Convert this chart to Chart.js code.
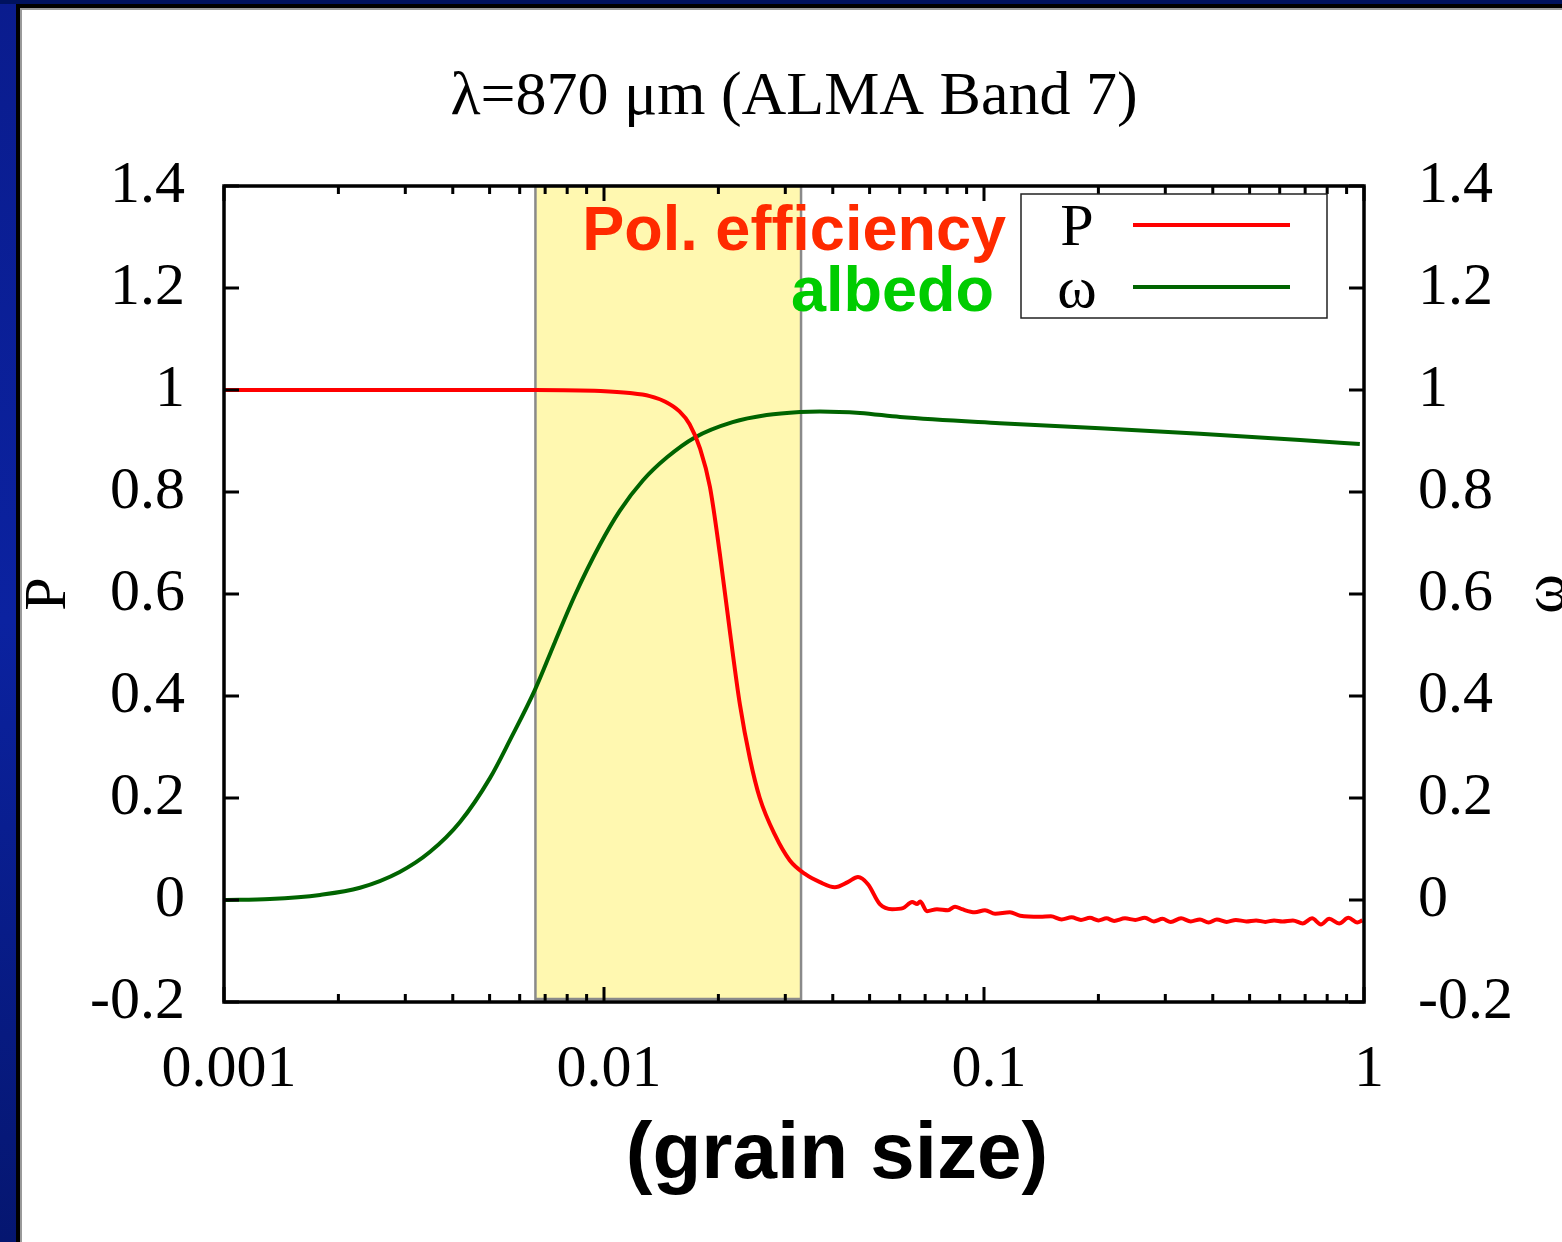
<!DOCTYPE html>
<html><head><meta charset="utf-8">
<script src="https://cdn.jsdelivr.net/npm/chart.js@4.4.1/dist/chart.umd.min.js"></script>
<style>
html,body{margin:0;padding:0;width:1562px;height:1242px;overflow:hidden;}
body{background:linear-gradient(to bottom,#0a1c8e 0%,#0b22a0 50%,#051670 100%);position:relative;}
#topstrip{position:absolute;left:0;top:0;width:1562px;height:4px;background:#00125e;}
#panel{position:absolute;left:16px;top:4px;width:1600px;height:1300px;background:#000;}
#inner{position:absolute;left:4px;top:4px;right:0;bottom:0;background:#fff;border-left:2px solid #9a9a9a;border-top:2px solid #9a9a9a;}
#c{position:absolute;left:0;top:0;}
</style></head>
<body>
<div id="topstrip"></div>
<div id="panel"><div id="inner"></div></div>
<canvas id="c" width="1562" height="1242"></canvas>
<script>
// ---- text ----
const TITLE = 'λ=870 μm (ALMA Band 7)';
const X_TITLE = '(grain size)';
const Y_TITLE = 'P';
const Y2_TITLE = 'ω';
const seriesLabels = ['P', 'ω'];
const annotLabels = ['Pol. efficiency', 'albedo'];

// ---- ticks ----
const xTickValues = [0.001, 0.01, 0.1, 1];
const xTickLabels = ['0.001', '0.01', '0.1', '1'];
const yTickValues = [-0.2, 0, 0.2, 0.4, 0.6, 0.8, 1.0, 1.2, 1.4];
const yTickLabels = ['-0.2', '0', '0.2', '0.4', '0.6', '0.8', '1', '1.2', '1.4'];

// ---- highlighted grain-size band ----
const bandRange = [0.0066, 0.033];

// ---- polarization efficiency P ----
const sizeP = [0.001, 0.002, 0.004, 0.0066, 0.0098, 0.0117, 0.0132, 0.0145, 0.0158, 0.0168,
  0.0179, 0.0190, 0.0202, 0.0215, 0.0228, 0.0242, 0.0257, 0.0282, 0.0308, 0.0338,
  0.037, 0.0405, 0.0438, 0.0466, 0.0495, 0.0532, 0.0573, 0.0612, 0.0647, 0.0667,
  0.0679, 0.0708, 0.0752, 0.0804, 0.0839, 0.0875, 0.0946, 0.1006, 0.107, 0.117,
  0.1245, 0.1404, 0.15, 0.16, 0.17, 0.18, 0.19, 0.2, 0.21, 0.22,
  0.235, 0.25, 0.265, 0.28, 0.295, 0.31, 0.33, 0.35, 0.37, 0.39,
  0.41, 0.435, 0.46, 0.49, 0.52, 0.55, 0.58, 0.61, 0.65, 0.69,
  0.73, 0.77, 0.81, 0.86, 0.91, 0.96, 0.99];
const polEff = [1.0, 1.0, 1.0, 1.0, 0.998, 0.994, 0.988, 0.977, 0.958, 0.933,
  0.885, 0.81, 0.676, 0.52, 0.382, 0.278, 0.2, 0.127, 0.078, 0.051,
  0.035, 0.025, 0.035, 0.045, 0.031, -0.008, -0.018, -0.016, -0.004, -0.008,
  -0.003, -0.022, -0.018, -0.02, -0.013, -0.018, -0.024, -0.02, -0.027, -0.024,
  -0.031, -0.033, -0.032, -0.038, -0.034, -0.039, -0.035, -0.04, -0.036, -0.041,
  -0.036, -0.039, -0.035, -0.042, -0.037, -0.043, -0.036, -0.042, -0.038, -0.044,
  -0.038, -0.043, -0.039, -0.042, -0.04, -0.043, -0.04, -0.042, -0.04, -0.046,
  -0.036, -0.048, -0.037, -0.046, -0.035, -0.044, -0.04];

// ---- albedo ω ----
const sizeW = [0.001, 0.00132, 0.00179, 0.00228, 0.0029, 0.00348, 0.00418, 0.00501, 0.00566, 0.00658,
  0.00743, 0.00839, 0.00976, 0.011, 0.01267, 0.01465, 0.01734, 0.0218, 0.0268, 0.0328,
  0.037, 0.0472, 0.0601, 0.11, 0.202, 0.37, 0.679, 0.975];
const albedo = [0.0, 0.002, 0.01, 0.024, 0.055, 0.094, 0.153, 0.239, 0.314, 0.412,
  0.506, 0.598, 0.697, 0.763, 0.823, 0.868, 0.907, 0.937, 0.951, 0.957,
  0.958, 0.955, 0.947, 0.935, 0.925, 0.914, 0.902, 0.894];

const SERIF = "'Liberation Serif', 'Times New Roman', serif";
const SANS = "'Liberation Sans', Arial, Helvetica, sans-serif";
const RED = '#ff0000', GREEN = '#006400';

const overlay = {
  id: 'overlay',
  beforeDatasetsDraw(chart) {
    const {ctx, chartArea: a, scales: {x}} = chart;
    const x0 = x.getPixelForValue(bandRange[0]), x1 = x.getPixelForValue(bandRange[1]);
    ctx.save();
    ctx.fillStyle = '#fff8b0';
    ctx.fillRect(x0, a.top, x1 - x0, a.bottom - a.top - 3);
    ctx.strokeStyle = '#8a8a8a';
    ctx.lineWidth = 2.5;
    ctx.strokeRect(x0, a.top, x1 - x0, a.bottom - a.top - 3);
    ctx.restore();
  },
  afterDatasetsDraw(chart) {
    const {ctx, chartArea: a, scales: {x, y, y2}} = chart;
    ctx.save();
    ctx.strokeStyle = '#000';
    ctx.lineWidth = 3;
    for (let d = 0; d < xTickValues.length; d++) {
      const dec = xTickValues[d];
      for (let m = 1; m <= 9; m++) {
        const v = dec * m;
        if (v > xTickValues[xTickValues.length - 1] * 1.0001) break;
        const px = x.getPixelForValue(v);
        const len = m === 1 ? 15 : 8;
        ctx.beginPath();
        ctx.moveTo(px, a.bottom); ctx.lineTo(px, a.bottom - len);
        ctx.moveTo(px, a.top); ctx.lineTo(px, a.top + len);
        ctx.stroke();
      }
    }
    yTickValues.forEach(v => {
      const py = y.getPixelForValue(v);
      const py2 = y2.getPixelForValue(v);
      ctx.beginPath();
      ctx.moveTo(a.left, py); ctx.lineTo(a.left + 15, py);
      ctx.moveTo(a.right, py2); ctx.lineTo(a.right - 15, py2);
      ctx.stroke();
    });
    ctx.lineWidth = 3.5;
    ctx.strokeRect(a.left, a.top, a.right - a.left, a.bottom - a.top);
    ctx.restore();
  },
  afterDraw(chart) {
    const {ctx, chartArea: a} = chart;
    ctx.save();
    ctx.textAlign = 'right';
    ctx.textBaseline = 'alphabetic';
    ctx.font = 'bold 63px ' + SANS;
    ctx.fillStyle = '#ff2a00';
    ctx.fillText(annotLabels[0], a.right - 358, a.top + 64);
    ctx.fillStyle = '#00cc00';
    ctx.fillText(annotLabels[1], a.right - 370, a.top + 125);
    const lx = a.right - 343, ly = a.top + 8, lw = 306, lh = 124;
    ctx.fillStyle = '#fff';
    ctx.fillRect(lx, ly, lw, lh);
    ctx.strokeStyle = '#222';
    ctx.lineWidth = 1.5;
    ctx.strokeRect(lx, ly, lw, lh);
    ctx.font = '60px ' + SERIF;
    ctx.textAlign = 'center';
    ctx.fillStyle = '#000';
    const dsets = chart.data.datasets;
    const rows = [a.top + 39, a.top + 101];
    dsets.forEach((ds, i) => {
      ctx.fillText(ds.label, lx + 56, rows[i] + 20);
      ctx.strokeStyle = ds.borderColor;
      ctx.lineWidth = 4;
      ctx.beginPath();
      ctx.moveTo(lx + 112, rows[i]); ctx.lineTo(lx + 269, rows[i]);
      ctx.stroke();
    });
    ctx.fillStyle = '#000';
    ctx.font = '60px ' + SERIF;
    ctx.textAlign = 'center';
    ctx.textBaseline = 'alphabetic';
    const cy = (a.top + a.bottom) / 2;
    ctx.save(); ctx.translate(65, cy); ctx.rotate(-Math.PI / 2); ctx.fillText(Y_TITLE, 0, 0); ctx.restore();
    ctx.save(); ctx.translate(1563, cy); ctx.rotate(-Math.PI / 2); ctx.fillText(Y2_TITLE, 0, 0); ctx.restore();
    ctx.font = 'bold 80px ' + SANS;
    ctx.fillText(X_TITLE, 837, 1178);
    ctx.restore();
  }
};

new Chart(document.getElementById('c'), {
  type: 'line',
  data: {
    datasets: [
      {label: seriesLabels[0], data: sizeP.map((v, i) => ({x: v, y: polEff[i]})),
       borderColor: RED, borderWidth: 4, pointRadius: 0, cubicInterpolationMode: 'monotone', yAxisID: 'y'},
      {label: seriesLabels[1], data: sizeW.map((v, i) => ({x: v, y: albedo[i]})),
       borderColor: GREEN, borderWidth: 4, pointRadius: 0, cubicInterpolationMode: 'monotone', yAxisID: 'y2'}
    ]
  },
  options: {
    responsive: false,
    animation: false,
    devicePixelRatio: 1,
    layout: {padding: 0},
    plugins: {
      legend: {display: false},
      tooltip: {enabled: false},
      title: {display: true, text: TITLE, fullSize: false, color: '#000',
              font: {family: SERIF, size: 62, weight: 'normal', lineHeight: 1.2},
              padding: {top: 61, bottom: 50.6}}
    },
    scales: {
      x: {
        type: 'logarithmic', min: xTickValues[0], max: xTickValues[xTickValues.length - 1],
        grid: {display: false, drawTicks: false}, border: {display: false},
        afterBuildTicks: s => { s.ticks = xTickValues.map(v => ({value: v})); },
        afterFit: s => { s.height = 240; },
        ticks: {autoSkip: false, maxRotation: 0, padding: 32, labelOffset: 5, color: '#000',
                font: {family: SERIF, size: 60},
                callback: (v, i) => xTickLabels[i]}
      },
      y: {
        type: 'linear', position: 'left', min: yTickValues[0], max: yTickValues[yTickValues.length - 1],
        grid: {display: false, drawTicks: false}, border: {display: false},
        afterBuildTicks: s => { s.ticks = yTickValues.map(v => ({value: v})); },
        afterFit: s => { s.width = 224; },
        ticks: {autoSkip: false, padding: 39, color: '#000', font: {family: SERIF, size: 60},
                callback: (v, i) => yTickLabels[i]}
      },
      y2: {
        type: 'linear', position: 'right', min: yTickValues[0], max: yTickValues[yTickValues.length - 1],
        grid: {display: false, drawTicks: false}, border: {display: false},
        afterBuildTicks: s => { s.ticks = yTickValues.map(v => ({value: v})); },
        afterFit: s => { s.width = 198; },
        ticks: {autoSkip: false, padding: 54, color: '#000', font: {family: SERIF, size: 60},
                callback: (v, i) => yTickLabels[i]}
      }
    }
  },
  plugins: [overlay]
});
</script>
</body></html>
